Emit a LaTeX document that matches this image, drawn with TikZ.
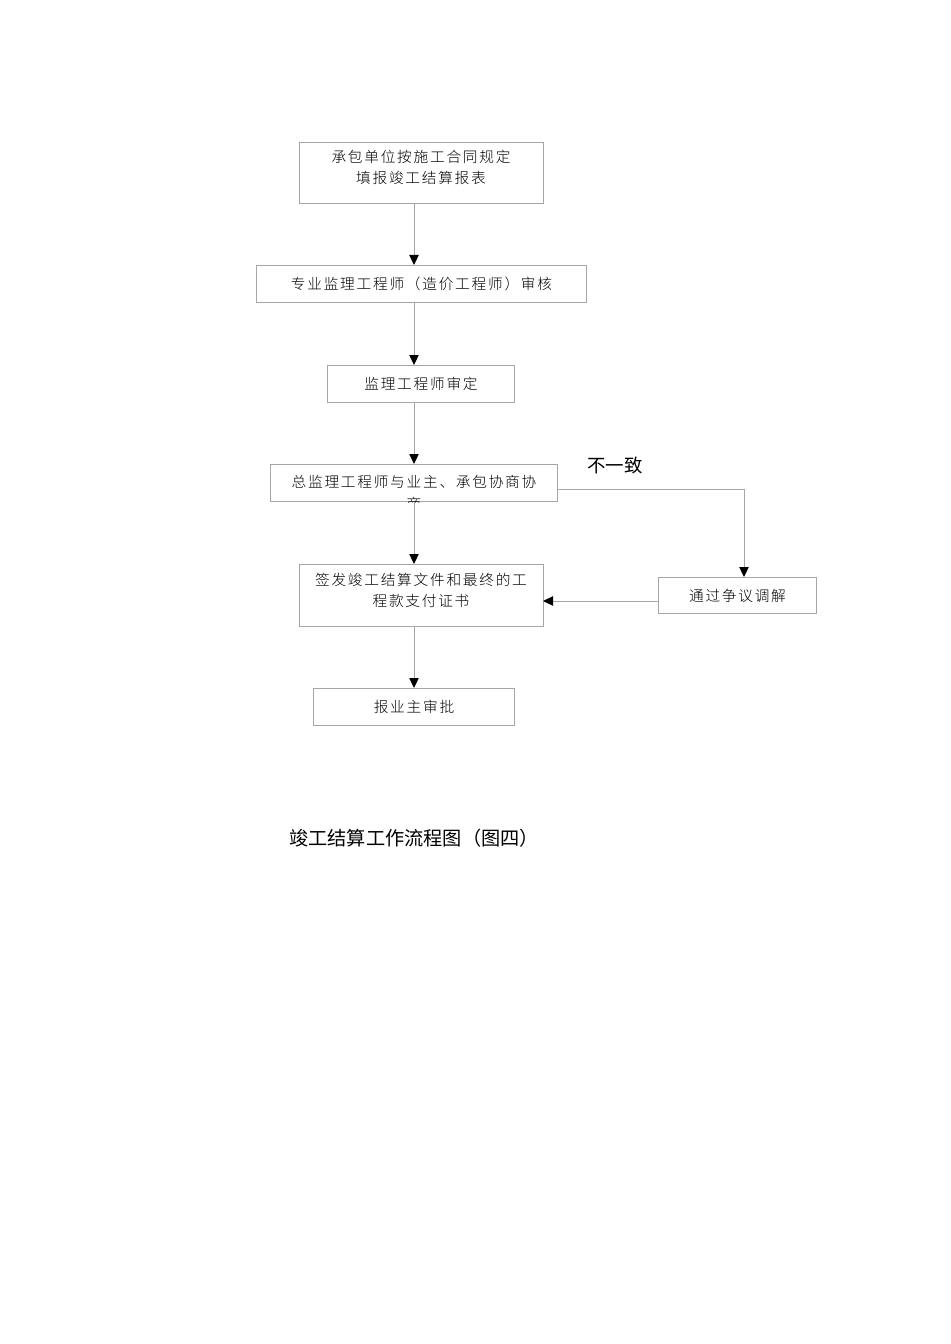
\documentclass[tikz,border=0pt]{standalone}
\usepackage{fontspec}
\usetikzlibrary{arrows.meta}
\newfontfamily\cjkbox[LetterSpace=12]{Noto Sans CJK SC Light}
\newfontfamily\cjk{Noto Sans CJK SC}
\begin{document}
\begin{tikzpicture}[x=0.75pt,y=-0.75pt,
  boxfont/.style={font=\cjkbox\fontsize{11}{15.75}\selectfont},
  box/.style={draw=black!35,line width=0.75pt,anchor=north west,inner sep=0pt,
    boxfont,align=center,text=black},
  conn/.style={draw=black!35,line width=0.75pt},
  arr/.style={conn,-{Triangle[length=7.5pt,width=7pt,fill=black,color=black]}}]
\useasboundingbox (0,0) rectangle (950,1344);
\coordinate (ax) at (414,0);
\node[box,minimum width=244*0.75pt,minimum height=61*0.75pt] (b1) at (299,142) {};
\node[boxfont,align=center,inner sep=0pt] (b1t) at (421,167.5) {承包单位按施工合同规定\\填报竣工结算报表};
\node[box,minimum width=330*0.75pt,minimum height=37*0.75pt] (b2) at (256,265) {专业监理工程师（造价工程师）审核};
\node[box,minimum width=187*0.75pt,minimum height=37*0.75pt] (b3) at (327,365) {监理工程师审定};
\node[box,minimum width=287*0.75pt,minimum height=37*0.75pt] (b4) at (270,464) {};
\begin{scope}
\clip (b4.north west) rectangle (b4.south east);
\node[font=\cjkbox\fontsize{11}{16.5}\selectfont,align=center,anchor=center,inner sep=0pt] (b4t) at (414,493) {总监理工程师与业主、承包协商协\\商};
\end{scope}
\node[box,minimum width=244*0.75pt,minimum height=62*0.75pt,anchor=north west] (b5) at (299,564) {};
\node[boxfont,align=center,inner sep=0pt] (b5t) at (421,590) {签发竣工结算文件和最终的工\\程款支付证书};
\node[box,minimum width=201*0.75pt,minimum height=37*0.75pt] (b6) at (313,688) {报业主审批};
\node[box,minimum width=158*0.75pt,minimum height=36*0.75pt] (b7) at (658,577) {通过争议调解};
\node[font=\cjk\fontsize{13.8}{16}\selectfont,anchor=west,inner sep=0pt] (lab) at (587,466) {不一致};
\node[font=\cjk\fontsize{14.4}{16}\selectfont,anchor=west,inner sep=0pt] (cap) at (289,838) {竣工结算工作流程图（图四）};
\coordinate (c4) at (557,489);
\coordinate (c47) at (744,489);
\coordinate (c7) at (744,577);
\coordinate (c75) at (658,601);
\coordinate (c5) at (543,601);
\draw[arr] (b1.south -| ax) -- (b2.north -| ax);
\draw[arr] (b2.south -| ax) -- (b3.north -| ax);
\draw[arr] (b3.south -| ax) -- (b4.north -| ax);
\draw[arr] (b4.south -| ax) -- (b5.north -| ax);
\draw[arr] (b5.south -| ax) -- (b6.north -| ax);
\draw[arr] (c4) -- (c47) -- (c7);
\draw[arr] (c75) -- (c5);
\end{tikzpicture}
\end{document}
